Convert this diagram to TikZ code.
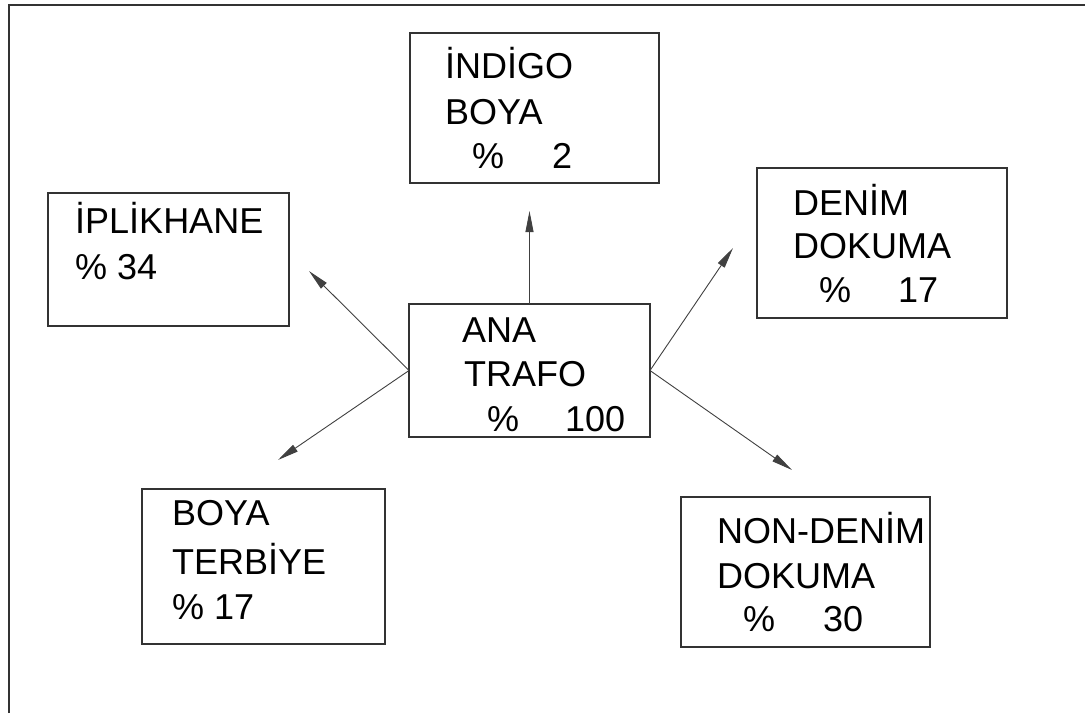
\documentclass[tikz,border=0pt]{standalone}
\usepackage{fontspec}
\setmainfont{Liberation Sans}
\usetikzlibrary{arrows.meta}
\begin{document}
\begin{tikzpicture}[x=1pt,y=-1pt,
  box/.style={draw=black!80, line width=1.3pt, inner sep=0pt, outer sep=0pt},
  lbl/.style={anchor=base west, inner sep=0pt, font=\fontsize{36}{40}\selectfont, text=black},
  feed/.style={draw=black!75, line width=0.9pt, -{Triangle[length=21pt,width=8pt]}}]
\useasboundingbox (0,0) rectangle (1085,713);
% page frame (top and left rules)
\draw[line width=1.8pt, black!80] (9,713) -- (9,5) -- (1085,5);

% boxes
\node[box, minimum width=249pt, minimum height=150pt] (indigo) at (534.5,108) {};
\node[box, minimum width=241pt, minimum height=133pt] (iplik) at (168.5,259.5) {};
\node[box, minimum width=250pt, minimum height=150pt] (denim) at (882,243) {};
\node[box, minimum width=241pt, minimum height=133pt] (ana) at (529.5,370.5) {};
\node[box, minimum width=243pt, minimum height=155pt] (boya) at (263.5,566.5) {};
\node[box, minimum width=249pt, minimum height=150pt] (nondenim) at (805.5,572) {};

% labels
\node[lbl] (indigo1) at (445,78) {İNDİGO};
\node[lbl] (indigo2) at (445,124) {BOYA};
\node[lbl] (indigo3) at (472,168) {\%};
\node[lbl] (indigo4) at (552,168) {2};

\node[lbl] (iplik1) at (75,233) {İPLİKHANE};
\node[lbl] (iplik2) at (75,279) {\% 34};

\node[lbl] (denim1) at (793,215) {DENİM};
\node[lbl] (denim2) at (793,258) {DOKUMA};
\node[lbl] (denim3) at (819,302) {\%};
\node[lbl] (denim4) at (898,302) {17};

\node[lbl] (ana1) at (462,342) {ANA};
\node[lbl] (ana2) at (464,386) {TRAFO};
\node[lbl] (ana3) at (487,431) {\%};
\node[lbl] (ana4) at (565,431) {100};

\node[lbl] (boya1) at (172,525) {BOYA};
\node[lbl] (boya2) at (172,574) {TERBİYE};
\node[lbl] (boya3) at (172,619) {\% 17};

\node[lbl] (non1) at (717,543) {NON-DENİM};
\node[lbl] (non2) at (717,588) {DOKUMA};
\node[lbl] (non3) at (743,631) {\%};
\node[lbl] (non4) at (823,631) {30};

% arrow tips
\coordinate (tUp) at (529.5,211);
\coordinate (tIpl) at (309,271);
\coordinate (tDen) at (733,248);
\coordinate (tBoya) at (278,460);
\coordinate (tNon) at (792,470);

% feeders from the main transformer
\draw[feed] (ana.north) -- (tUp);
\draw[feed] (ana.west) -- (tIpl);
\draw[feed] (ana.east) -- (tDen);
\draw[feed] (ana.west) -- (tBoya);
\draw[feed] (ana.east) -- (tNon);
\end{tikzpicture}
\end{document}
